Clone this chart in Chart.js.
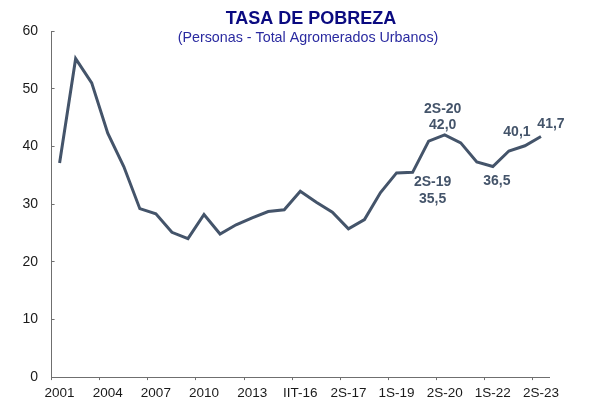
<!DOCTYPE html>
<html lang="es">
<head>
<meta charset="utf-8">
<title>Tasa de pobreza</title>
<script src="https://cdn.jsdelivr.net/npm/chart.js@4.4.1/dist/chart.umd.min.js"></script>
<style>
  html, body { margin: 0; padding: 0; background: #fff; }
  #wrap { width: 609px; height: 402px; position: relative; }
</style>
</head>
<body>
<div id="wrap"><canvas id="chartPobreza" width="609" height="402"></canvas></div>
<script>
/* ─── Datos ───────────────────────────────────────── */
const categories = [
  '2001', '2002', '2003', '2004', '2005', '2006', '2007', '2008', '2009', '2010',
  '2011', '2012', '2013', '2014', '2015', 'IIT-16', '2S-16', '1S-17', '2S-17', '1S-18',
  '2S-18', '1S-19', '2S-19', '1S-20', '2S-20', '1S-21', '2S-21', '1S-22', '2S-22', '1S-23',
  '2S-23',
];
const pobreza = [
  37.1, 55.2, 51.0, 42.3, 36.5, 29.2, 28.3, 25.1, 24.0, 28.2,
  24.8, 26.4, 27.6, 28.7, 29.0, 32.2, 30.3, 28.6, 25.7, 27.3,
  32.0, 35.4, 35.5, 40.9, 42.0, 40.6, 37.3, 36.5, 39.2, 40.1,
  41.7,
];
const yTicks = [0, 10, 20, 30, 40, 50, 60];
const tickEvery = 3;

const TITLE = 'TASA DE POBREZA';
const SUBTITLE = '(Personas - Total Agromerados Urbanos)';

/* ─── Estilos ─────────────────────────────────────── */
const FONT = "'Liberation Sans', Arial, Helvetica, sans-serif";
const LINE_COLOR = '#44546a';
const AXIS_COLOR = '#6f6f6f';
const TEXT_COLOR = '#1a1a1a';

// etiquetas sobre puntos destacados (índice, mostrar categoría, desplazamiento)
const callouts = [
  { i: 22, withCat: true,  dx: 20, dy: 10 },
  { i: 24, withCat: true,  dx: -2, dy: -26 },
  { i: 27, withCat: false, dx: 4,  dy: 15 },
  { i: 29, withCat: false, dx: -8, dy: -14 },
  { i: 30, withCat: false, dx: 10, dy: -12 },
];

const fmt = v => v.toFixed(1).replace('.', ',');

/* ─── Plugin: título centrado sobre el gráfico ───── */
const titlePlugin = {
  id: 'tituloPobreza',
  afterDraw(chart) {
    const c = chart.ctx;
    c.save();
    c.textAlign = 'center';
    c.textBaseline = 'alphabetic';
    c.fillStyle = '#0a0a80';
    c.font = `bold 18px ${FONT}`;
    c.fillText(TITLE, 311, 24);
    c.fillStyle = '#2a2aa0';
    c.font = `14.3px ${FONT}`;
    c.fillText(SUBTITLE, 308, 41.5);
    c.restore();
  },
};

/* ─── Plugin: etiquetas de datos ──────────────────── */
const calloutPlugin = {
  id: 'etiquetasPobreza',
  afterDatasetsDraw(chart) {
    const meta = chart.getDatasetMeta(0);
    const c = chart.ctx;
    c.save();
    c.font = `bold 14px ${FONT}`;
    c.fillStyle = LINE_COLOR;
    c.textAlign = 'center';
    c.textBaseline = 'middle';
    callouts.forEach(({ i, withCat, dx, dy }) => {
      const pt = meta.data[i];
      const lines = withCat ? [categories[i], fmt(pobreza[i])] : [fmt(pobreza[i])];
      lines.forEach((txt, k) => {
        c.fillText(txt, pt.x + dx, pt.y + dy + k * 16.5);
      });
    });
    c.restore();
  },
};

new Chart(document.getElementById('chartPobreza'), {
  type: 'line',
  data: {
    labels: categories,
    datasets: [{
      label: 'Pobreza',
      data: pobreza,
      borderColor: LINE_COLOR,
      backgroundColor: LINE_COLOR,
      borderWidth: 3,
      pointRadius: 0,
      pointHoverRadius: 0,
      tension: 0,
      fill: false,
    }],
  },
  options: {
    responsive: false,
    animation: false,
    layout: { padding: { left: 6, right: 60, top: 31, bottom: -4.5 } },
    plugins: {
      legend: { display: false },
      tooltip: { enabled: false },
    },
    scales: {
      x: {
        type: 'category',
        offset: true,
        border: { display: true, color: AXIS_COLOR, width: 1 },
        grid: {
          offset: true,
          drawOnChartArea: false,
          drawTicks: true,
          tickLength: 3,
          tickColor: ctx => (ctx.index !== undefined && ctx.index % tickEvery === 0) ? AXIS_COLOR : 'rgba(0,0,0,0)',
        },
        ticks: {
          autoSkip: false,
          maxRotation: 0,
          minRotation: 0,
          padding: 5,
          color: TEXT_COLOR,
          font: { family: FONT, size: 13.5 },
          callback: (v, i) => (i % tickEvery === 0 ? categories[i] : ''),
        },
      },
      y: {
        min: yTicks[0],
        max: yTicks[yTicks.length - 1],
        border: { display: true, color: AXIS_COLOR, width: 1 },
        grid: {
          drawOnChartArea: false,
          drawTicks: true,
          tickLength: -3,
          tickColor: AXIS_COLOR,
        },
        afterBuildTicks: scale => { scale.ticks = yTicks.map(v => ({ value: v })); },
        ticks: {
          padding: 16.5,
          color: TEXT_COLOR,
          font: { family: FONT, size: 14 },
        },
      },
    },
  },
  plugins: [titlePlugin, calloutPlugin],
});
</script>
</body>
</html>
